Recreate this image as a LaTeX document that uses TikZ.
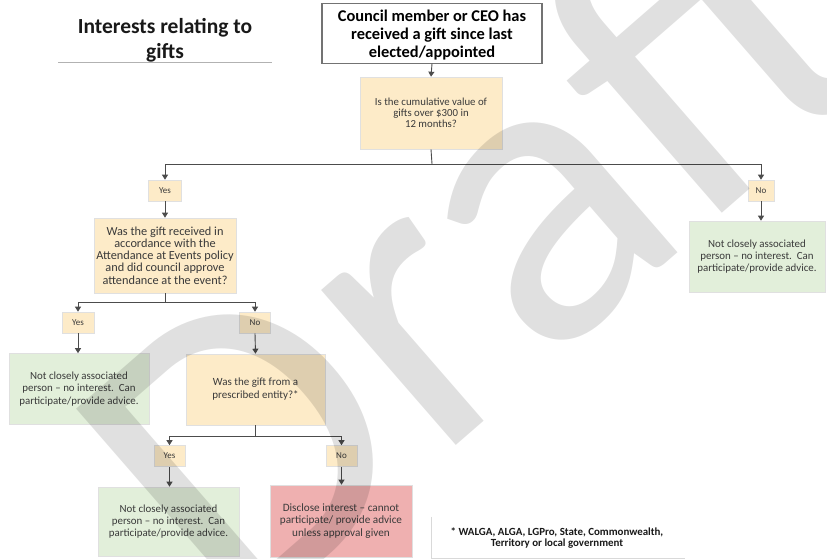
\documentclass[tikz,border=0pt]{standalone}
\usepackage{fontspec}
\setmainfont{Carlito}
\usetikzlibrary{arrows.meta}
\definecolor{qbox}{HTML}{FDEBC8}
\definecolor{gbox}{HTML}{E2EFDA}
\definecolor{rbox}{HTML}{EFB0B0}
\definecolor{txt}{HTML}{3A3A3A}
\begin{document}
\begin{tikzpicture}[x=1pt,y=-1pt,
  base/.style={align=center, inner sep=1pt, text=txt, draw=black!12, line width=0.6pt},
  qbox/.style={base, fill=qbox, font=\fontsize{12.3}{12.2}\selectfont},
  ans/.style={base, fill=qbox, font=\fontsize{9}{9}\selectfont, minimum height=21pt},
  gbox/.style={base, fill=gbox, font=\fontsize{10.9}{12.2}\selectfont, minimum width=140pt, minimum height=71pt},
  rbox/.style={base, fill=rbox, font=\fontsize{11.2}{12.5}\selectfont, minimum width=142pt, minimum height=72pt},
  link/.style={draw=black!70, line width=0.9pt},
  arr/.style={link, -{Triangle[width=6pt,length=5pt]}}
]
\useasboundingbox (0,0) rectangle (827,559);
\fill[white] (0,0) rectangle (827,559);

% title
\node[font=\bfseries\fontsize{21.5}{25}\selectfont, align=center, text=black!90] (title) at (165,40) {Interests relating to\\gifts};
\draw[black!30, line width=0.8pt] (58,62) -- (272,62);

% top box
\node[draw=black!55, line width=1.2pt, fill=white, minimum width=220pt, minimum height=53pt, align=center,
      font=\bfseries\fontsize{16.4}{18}\selectfont] (top) at (432,33.5) {\rule{0pt}{14pt}Council member or CEO has\\received a gift since last\\elected/appointed};

\node[qbox, minimum width=142pt, minimum height=72pt, font=\fontsize{10.8}{10.8}\selectfont] (q1) at (431,113) {Is the cumulative value of\\gifts over \$300 in\\12 months?};

\node[ans, minimum width=33pt] (yes1) at (165,190.5) {Yes};
\node[ans, minimum width=26pt] (no1) at (761,190.5) {No};

\node[qbox, minimum width=142pt, minimum height=75pt] (q2) at (165,255.5) {Was the gift received in\\accordance with the\\Attendance at Events policy\\and did council approve\\attendance at the event?};

\node[gbox, minimum width=136pt] (g1) at (757,256.5) {Not closely associated\\person -- no interest.\ \ Can\\participate/provide advice.};

\node[ans, minimum width=32pt] (yes2) at (78,322.5) {Yes};
\node[ans, minimum width=31pt] (no2) at (255,322.5) {No};

\node[gbox] (g2) at (79,389) {Not closely associated\\person -- no interest.\ \ Can\\participate/provide advice.};
\node[qbox, minimum width=139pt, minimum height=71pt, font=\fontsize{11}{13}\selectfont] (q3) at (255.5,389.5) {Was the gift from a\\prescribed entity?*};

\node[ans, minimum width=31pt] (yes3) at (169.5,456) {Yes};
\node[ans, minimum width=31pt] (no3) at (341.5,456) {No};

\node[gbox, minimum width=141pt, minimum height=69pt] (g3) at (168.5,521.5) {Not closely associated\\person -- no interest.\ \ Can\\participate/provide advice.};
\node[rbox] (r1) at (341,521) {Disclose interest -- cannot\\participate/ provide advice\\unless approval given};

% footnote box
\node[minimum width=253pt, minimum height=41pt, inner sep=0pt] (fn) at (558.5,537.5) {};
\draw[black!15, line width=1pt] (fn.north west) -- (fn.south west) -- (fn.south east);
\node[font=\bfseries\fontsize{10.9}{10.5}\selectfont, align=center, text=black!90] (fntext) at (557,538) {* WALGA, ALGA, LGPro, State, Commonwealth,\\Territory or local government};

% connectors
\coordinate (j1) at (432,164);
\coordinate (j2) at (165,302);
\coordinate (j3) at (255.5,436);
\draw[arr] (top.south) -- (q1.north);
\draw[link] (q1.south) -- (j1);
\draw[arr] (j1) -| (yes1.north);
\draw[arr] (j1) -| (no1.north);
\draw[arr] (yes1.south) -- (q2.north);
\draw[arr] (no1.south) -- (no1.south |- g1.north);
\draw[link] (q2.south) -- (j2);
\draw[arr] (j2) -| (yes2.north);
\draw[arr] (j2) -| (no2.north);
\draw[arr] (yes2.south) -- (yes2.south |- g2.north);
\draw[arr] (no2.south) -- (q3.north);
\draw[link] (q3.south) -- (j3);
\draw[arr] (j3) -| (yes3.north);
\draw[arr] (j3) -| (no3.north);
\draw[arr] (yes3.south) -- (yes3.south |- g3.north);
\draw[arr] (no3.south) -- (no3.south |- r1.north);

% watermark
\node[rotate=41, text=black, text opacity=0.12, font=\fontsize{430}{430}\selectfont] (wm) at (470,240) {Draft};
\end{tikzpicture}
\end{document}
